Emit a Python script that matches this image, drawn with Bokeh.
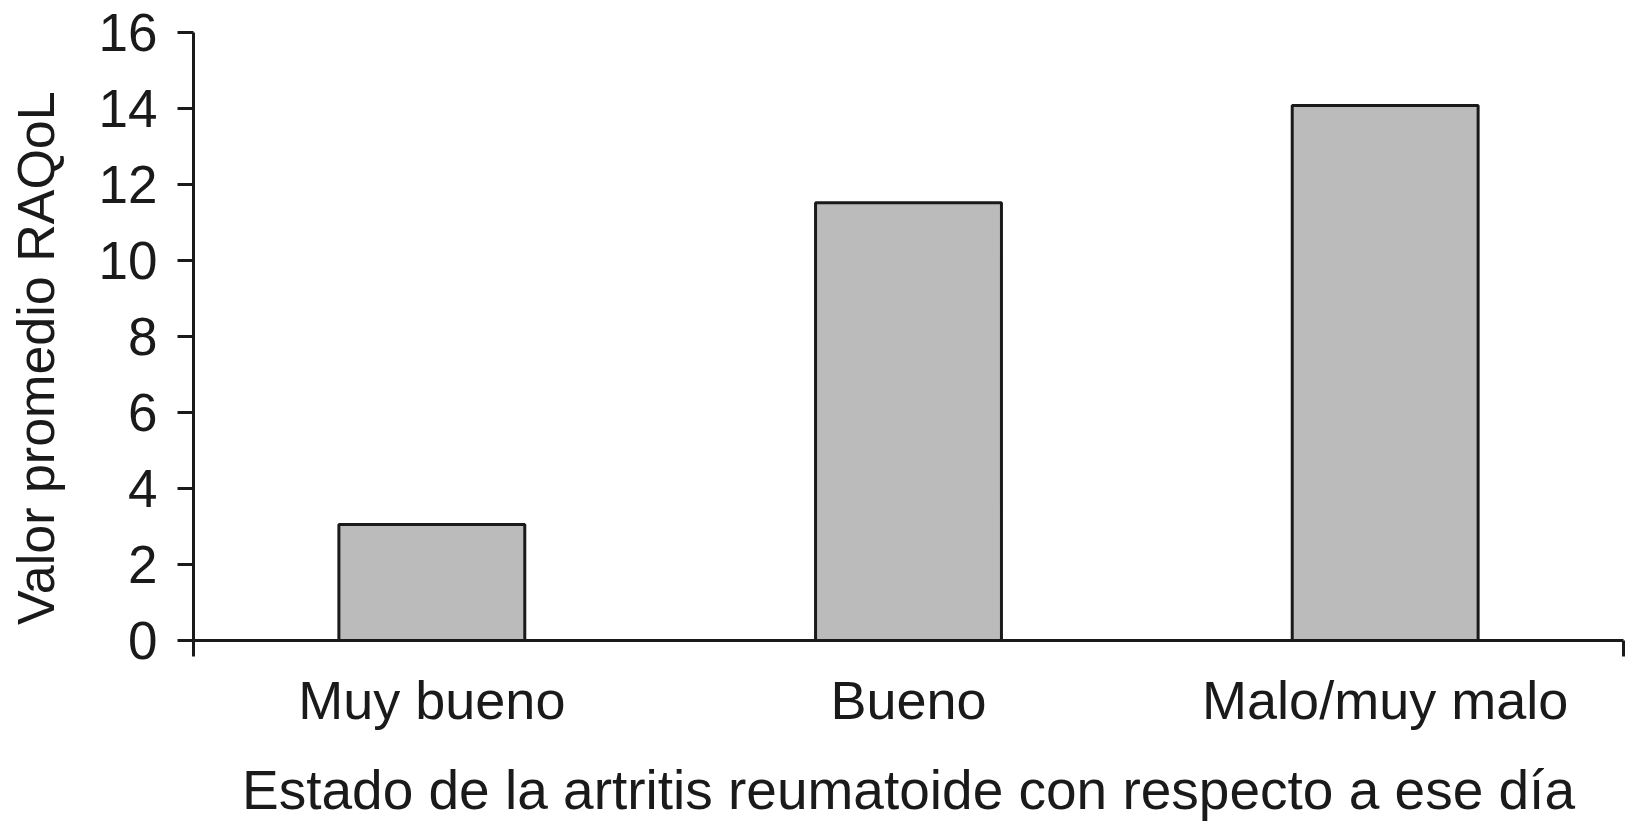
from bokeh.plotting import figure
from bokeh.models import Range1d, FixedTicker
from bokeh.embed import file_html
from bokeh.resources import INLINE

categories = ["Muy bueno", "Bueno", "Malo/muy malo"]
values = [3.05, 11.52, 14.08]
y_ticks = [0, 2, 4, 6, 8, 10, 12, 14, 16]
y_title = "Valor promedio RAQoL"
x_title = "Estado de la artritis reumatoide con respecto a ese día"

x_centers = [i + 0.5 for i in range(len(categories))]

FONT = "Liberation Sans"
DARK = "#1a1a1a"

p = figure(width=1625, height=823, output_backend="svg", toolbar_location=None,
           x_range=Range1d(0, len(categories)), y_range=Range1d(0, 16),
           min_border_left=193, min_border_right=2, min_border_top=32, min_border_bottom=183)
p.outline_line_color = None
p.xgrid.visible = False
p.ygrid.visible = False

p.vbar(x=x_centers, top=values, bottom=0, width=0.39,
       fill_color="#bbbbbb", line_color=DARK, line_width=3)

# y axis
ya = p.yaxis[0]
ya.ticker = FixedTicker(ticks=y_ticks, minor_ticks=[])
# trailing no-break spaces push the title slightly below the frame centre, as in the original
ya.axis_label = y_title + "\u00a0\u00a0\u00a0"
ya.axis_label_text_font = FONT
ya.axis_label_text_font_size = "52px"
ya.axis_label_text_font_style = "normal"
ya.axis_label_text_color = DARK
ya.axis_label_standoff = 31
ya.major_label_text_font = FONT
ya.major_label_text_font_size = "53px"
ya.major_label_text_color = DARK
ya.major_label_standoff = 20
ya.major_tick_out = 16
ya.major_tick_in = 0
ya.major_tick_line_width = 3
ya.major_tick_line_color = DARK
ya.axis_line_width = 3
ya.axis_line_color = DARK

# x axis
xa = p.xaxis[0]
xa.ticker = FixedTicker(ticks=x_centers, minor_ticks=[0, len(categories)])
xa.major_label_overrides = {c: lab for c, lab in zip(x_centers, categories)}
xa.axis_label = x_title
xa.axis_label_text_font = FONT
xa.axis_label_text_font_size = "55px"
xa.axis_label_text_font_style = "normal"
xa.axis_label_text_color = DARK
xa.axis_label_standoff = 26
xa.major_label_text_font = FONT
xa.major_label_text_font_size = "54px"
xa.major_label_text_color = DARK
xa.major_label_standoff = 13
xa.major_tick_out = 0
xa.major_tick_in = 0
xa.minor_tick_out = 16
xa.minor_tick_in = 0
xa.minor_tick_line_width = 3
xa.minor_tick_line_color = DARK
xa.axis_line_width = 3
xa.axis_line_color = DARK

open("out.html", "w").write(file_html(p, INLINE))
